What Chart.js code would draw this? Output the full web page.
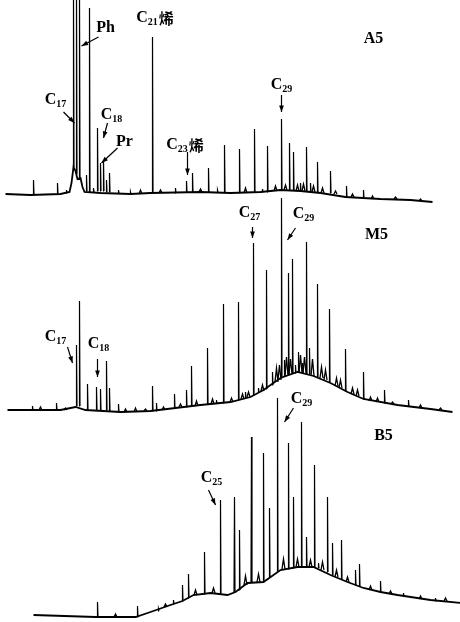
<!DOCTYPE html>
<html>
<head>
<meta charset="utf-8">
<script src="https://cdn.jsdelivr.net/npm/chart.js@4"></script>
<style>
  html, body { margin: 0; padding: 0; background: #fff; }
  #wrap { width: 460px; height: 622px; }
</style>
</head>
<body>
<div id="wrap"><canvas id="gc" width="460" height="622"></canvas></div>
<script>
// 三個樣品的色譜圖：x 為掃描序號，y 為相對響應強度

// A5 基線
const a5BaseX = [5, 30, 60, 69, 71, 73, 75, 77, 80, 82, 84, 100, 130, 150, 200, 230, 260, 280, 300, 320, 345, 380, 410, 432];
const a5BaseY = [11, 10, 11, 13, 22, 38, 34, 26, 27, 18, 13, 12, 11, 12, 13, 12, 13, 15, 14, 12, 8, 6, 5, 3];
// A5 峰：位置、峰頂、峰底
const a5PeakX =    [33, 57, 66, 73, 76, 79, 86, 89, 93, 97, 100, 103, 106, 109, 118, 130, 152, 175, 186, 192, 208, 217, 224, 239, 254, 262, 267, 281, 289, 293, 300, 306, 310, 317, 330, 346, 363];
const a5PeakTop =  [25, 22, 15, 215, 215, 215, 30, 197, 17, 77, 42, 45, 25, 32, 15, 13, 168, 17, 24, 32, 37, 15, 60, 56, 76, 16, 59, 86, 62, 53, 22, 58, 22, 43, 34, 19, 15];
const a5PeakBase = [10, 11, 12, 38, 31, 27, 14, 13, 13, 14, 14, 14, 13, 13, 12, 11, 13, 12, 13, 13, 13, 13, 13, 12, 13, 13, 13, 15, 15, 15, 14, 14, 14, 13, 12, 8, 7];
// A5 小雜峰
const a5NoiseX =    [140, 160, 200, 245, 275, 285, 297, 303, 313, 322, 335, 352, 372, 395, 420];
const a5NoiseTop =  [15, 15, 16, 17, 19, 20, 20, 21, 19, 17, 14, 11, 9, 8, 6];
const a5NoiseBase = [11, 12, 13, 12, 14, 15, 14, 14, 13, 12, 11, 8, 6, 6, 4];

// M5
const m5BaseX = [7, 60, 75, 85, 120, 150, 175, 200, 230, 250, 263, 280, 297, 313, 330, 347, 363, 397, 430, 452];
const m5BaseY = [5, 5, 8, 5, 3, 4, 7, 10, 13, 18, 25, 37, 43, 39, 32, 23, 16, 10, 6, 3];
const m5PeakX =    [32, 56, 76, 79, 87, 96, 100, 106, 109, 118, 152, 156, 174, 186, 191, 207, 216, 223, 238, 245, 253, 258, 266, 272, 281, 284, 288, 292, 295, 298, 302, 306, 309, 317, 329, 345, 363, 384, 408];
const m5PeakTop =  [9, 12, 70, 114, 31, 28, 26, 54, 27, 11, 29, 12, 21, 25, 49, 67, 15, 111, 113, 23, 172, 27, 145, 43, 217, 55, 142, 156, 50, 63, 52, 173, 67, 131, 106, 66, 43, 25, 15];
const m5PeakBase = [5, 5, 9, 9, 6, 5, 5, 5, 4, 3, 4, 4, 7, 8, 9, 11, 12, 12, 15, 17, 20, 23, 26, 30, 37, 39, 40, 42, 42, 43, 42, 41, 41, 38, 33, 24, 16, 12, 9];
const m5NoiseX =    [40, 65, 125, 135, 145, 163, 180, 196, 212, 231, 242, 248, 262, 276, 279, 286, 290, 300, 304, 312, 321, 325, 336, 340, 352, 357, 370, 377, 392, 420, 440];
const m5NoiseTop =  [8, 7, 6, 7, 6, 8, 11, 14, 16, 17, 21, 23, 30, 47, 50, 58, 56, 60, 58, 56, 48, 45, 37, 35, 27, 25, 18, 17, 13, 10, 7];
const m5NoiseBase = [5, 5, 3, 3, 4, 5, 8, 9, 11, 13, 16, 18, 24, 33, 35, 39, 41, 42, 42, 39, 37, 35, 29, 27, 21, 19, 14, 13, 11, 7, 5];

// B5
const b5BaseX = [33, 95, 135, 150, 170, 182, 193, 210, 227, 235, 247, 263, 280, 297, 313, 330, 347, 363, 380, 397, 430, 460];
const b5BaseY = [7, 5, 5, 10, 17, 21, 27, 29, 27, 30, 39, 40, 52, 55, 55, 47, 40, 34, 30, 27, 22, 19];
const b5PeakX =    [97, 137, 158, 173, 182, 188, 204, 220, 234, 239, 251, 263, 269, 277, 288, 293, 301, 306, 314, 318, 327, 332, 341, 355, 359, 380, 403, 435];
const b5PeakTop =  [20, 16, 13, 22, 37, 48, 70, 122, 125, 92, 185, 169, 114, 224, 179, 125, 200, 85, 157, 59, 125, 79, 82, 52, 58, 41, 29, 24];
const b5PeakBase = [5, 5, 11, 18, 21, 24, 28, 28, 29, 32, 39, 40, 45, 50, 53, 54, 55, 55, 55, 54, 50, 47, 43, 37, 36, 30, 26, 21];
const b5NoiseX =    [115, 165, 195, 213, 245, 258, 283, 297, 310, 322, 336, 347, 370, 390, 420, 445];
const b5NoiseTop =  [8, 18, 32, 34, 46, 48, 63, 63, 62, 60, 52, 45, 36, 31, 26, 24];
const b5NoiseBase = [5, 15, 27, 29, 37, 40, 53, 55, 55, 52, 45, 40, 32, 28, 23, 21];

// 標註：[主字, 下標, 後綴, x, y]
const a5Labels = [["C", "17", "", 55, 105], ["Ph", "", "", 105, 177], ["C", "18", "", 111, 90], ["Pr", "", "", 124, 63],
                  ["C", "21", "烯", 154, 187], ["C", "23", "烯", 184, 60], ["C", "29", "", 281, 120]];
const m5Labels = [["C", "17", "", 55, 78], ["C", "18", "", 98, 71], ["C", "27", "", 249, 202], ["C", "29", "", 303, 201]];
const b5Labels = [["C", "25", "", 211, 144], ["C", "29", "", 301, 223]];
// 箭頭：[x1, y1, x2, y2]
const a5Arrows = [[63, 93, 74, 82], [98, 168, 81, 159], [107, 82, 103, 67], [117, 57, 101, 42], [187, 53, 187, 30], [281, 110, 281, 93]];
const m5Arrows = [[67, 68, 72, 52], [97, 56, 97, 38], [252, 188, 252, 177], [295, 187, 287, 175]];
const b5Arrows = [[208, 132, 215, 117], [293, 214, 284, 200]];
// 樣品名
const sampleNames = ["A5", "M5", "B5"];
const sampleX = [373, 376, 383];
const sampleY = [166, 180, 186];

function baseLine(baseX, baseY) {
    return baseX.map((x, i) => ({x: x, y: baseY[i]}));
}

// 每個峰一段，中間用 null 斷開
function peakLines(peakX, peakTop, peakBase, half) {
    const pts = [];
    peakX.forEach((x, i) => {
        pts.push({x: x - half, y: peakBase[i]});
        pts.push({x: x, y: peakTop[i]});
        pts.push({x: x + half, y: peakBase[i]});
        pts.push({x: x + half + 0.1, y: null});
    });
    return pts;
}

function traceSet(data, axis, width) {
    return {
        data: data, yAxisID: axis,
        borderColor: '#000', borderWidth: width,
        pointRadius: 0, tension: 0, fill: false, spanGaps: false
    };
}

const panels = [
    {axis: 'yA', labels: a5Labels, arrows: a5Arrows},
    {axis: 'yM', labels: m5Labels, arrows: m5Arrows},
    {axis: 'yB', labels: b5Labels, arrows: b5Arrows}
];

const SERIF = '"Liberation Serif", "DejaVu Serif", serif';
const CJK = '"Noto Sans CJK SC", sans-serif';

function drawLabel(ctx, lab, px, py) {
    const [main, sub, suffix] = lab;
    const fMain = 'bold 16px ' + SERIF, fSub = 'bold 10px ' + SERIF, fCjk = 'bold 15px ' + CJK;
    ctx.font = fMain; const w1 = ctx.measureText(main).width;
    ctx.font = fSub; const w2 = sub ? ctx.measureText(sub).width : 0;
    ctx.font = fCjk; const w3 = suffix ? ctx.measureText(suffix).width : 0;
    let x = px - (w1 + w2 + w3) / 2;
    ctx.textBaseline = 'middle';
    ctx.textAlign = 'left';
    ctx.font = fMain; ctx.fillText(main, x, py); x += w1;
    if (sub) { ctx.font = fSub; ctx.fillText(sub, x, py + 4); x += w2; }
    if (suffix) { ctx.font = fCjk; ctx.fillText(suffix, x + 1, py); }
}

function drawArrow(ctx, x1, y1, x2, y2) {
    ctx.beginPath(); ctx.moveTo(x1, y1); ctx.lineTo(x2, y2); ctx.stroke();
    const a = Math.atan2(y2 - y1, x2 - x1);
    ctx.beginPath();
    ctx.moveTo(x2, y2);
    ctx.lineTo(x2 - 7 * Math.cos(a - 0.35), y2 - 7 * Math.sin(a - 0.35));
    ctx.lineTo(x2 - 7 * Math.cos(a + 0.35), y2 - 7 * Math.sin(a + 0.35));
    ctx.closePath(); ctx.fill();
}

const annotPlugin = {
    id: 'annot',
    afterDatasetsDraw(chart) {
        const ctx = chart.ctx, sx = chart.scales.x;
        ctx.save();
        ctx.fillStyle = '#000'; ctx.strokeStyle = '#000'; ctx.lineWidth = 1.2;
        panels.forEach((p, k) => {
            const sy = chart.scales[p.axis];
            p.labels.forEach(l => drawLabel(ctx, l, sx.getPixelForValue(l[3]), sy.getPixelForValue(l[4])));
            p.arrows.forEach(a => drawArrow(ctx, sx.getPixelForValue(a[0]), sy.getPixelForValue(a[1]),
                                             sx.getPixelForValue(a[2]), sy.getPixelForValue(a[3])));
            ctx.font = 'bold 16px ' + SERIF;
            ctx.textAlign = 'center'; ctx.textBaseline = 'middle';
            ctx.fillText(sampleNames[k], sx.getPixelForValue(sampleX[k]), sy.getPixelForValue(sampleY[k]));
        });
        ctx.restore();
    }
};

new Chart(document.getElementById('gc'), {
    type: 'line',
    data: {
        datasets: [
            traceSet(baseLine(a5BaseX, a5BaseY), 'yA', 1.8),
            traceSet(peakLines(a5PeakX, a5PeakTop, a5PeakBase, 0.5), 'yA', 1.2),
            traceSet(peakLines(a5NoiseX, a5NoiseTop, a5NoiseBase, 1.5), 'yA', 1.3),
            traceSet(baseLine(m5BaseX, m5BaseY), 'yM', 1.8),
            traceSet(peakLines(m5PeakX, m5PeakTop, m5PeakBase, 0.5), 'yM', 1.2),
            traceSet(peakLines(m5NoiseX, m5NoiseTop, m5NoiseBase, 1.5), 'yM', 1.3),
            traceSet(baseLine(b5BaseX, b5BaseY), 'yB', 1.8),
            traceSet(peakLines(b5PeakX, b5PeakTop, b5PeakBase, 0.5), 'yB', 1.2),
            traceSet(peakLines(b5NoiseX, b5NoiseTop, b5NoiseBase, 1.5), 'yB', 1.3)
        ]
    },
    options: {
        responsive: false,
        devicePixelRatio: 1,
        animation: false,
        layout: { padding: 0 },
        scales: {
            x: { type: 'linear', min: -0.5, max: 459.5, display: false },
            yA: { type: 'linear', min: -417, max: 205, display: false },
            yM: { type: 'linear', min: -207, max: 415, display: false },
            yB: { type: 'linear', min: 0, max: 622, display: false }
        },
        plugins: { legend: { display: false }, tooltip: { enabled: false } }
    },
    plugins: [annotPlugin]
});
</script>
</body>
</html>
